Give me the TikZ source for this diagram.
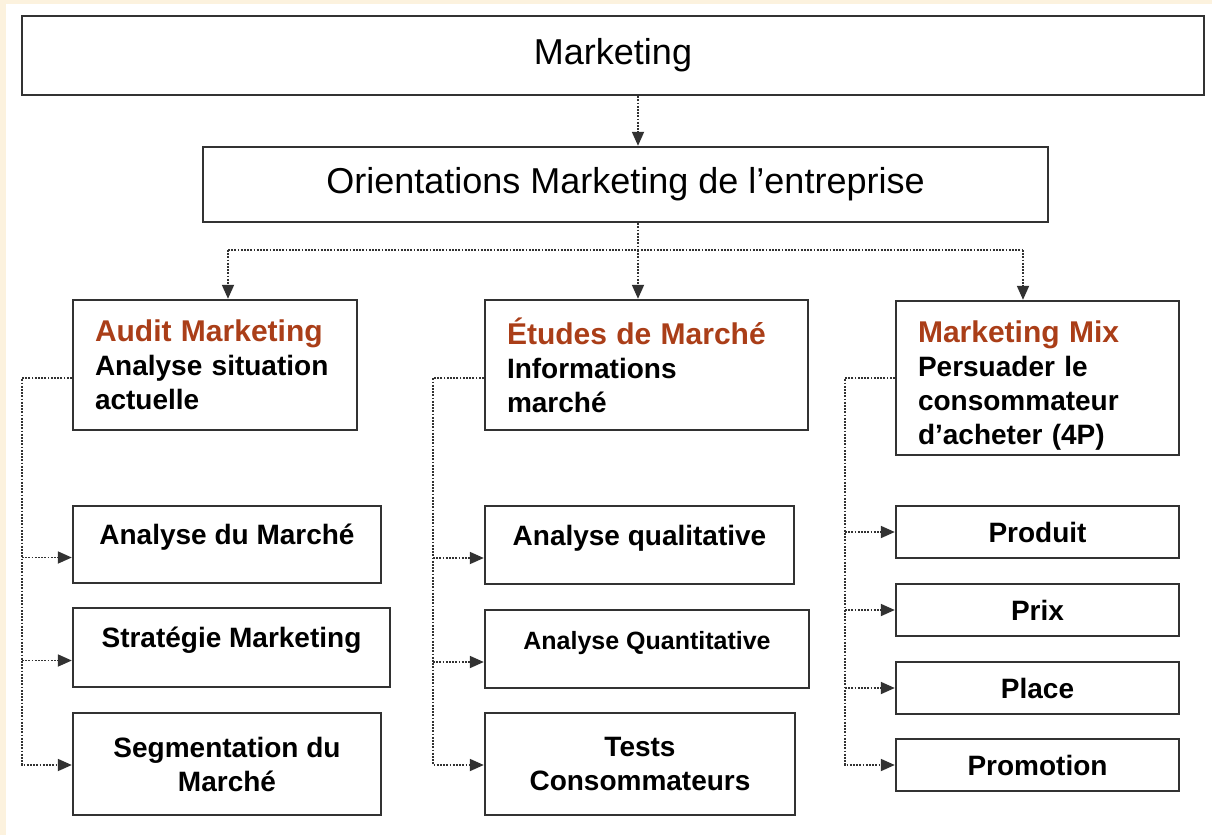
\documentclass[tikz,border=0pt]{standalone}
\usepackage{fontspec}
\setmainfont{Liberation Sans}
\usetikzlibrary{arrows.meta}
\definecolor{headred}{RGB}{170,62,24}
\definecolor{cream}{RGB}{252,242,222}
\definecolor{rule}{RGB}{50,50,50}

\begin{document}
\begin{tikzpicture}[
        x=1pt, y=-1pt,
        box/.style={rectangle, draw=rule, line width=2.4pt, fill=white, inner sep=0pt},
        topbox/.style={box, font=\fontsize{36}{40}\selectfont},
        unit/.style={box, inner xsep=22pt, align=left, font=\fontsize{28}{34}\selectfont\bfseries},
        kid/.style={box, align=center, text height=20pt, text depth=20pt, font=\fontsize{28}{34}\selectfont\bfseries},
        kidtwo/.style={box, align=center, font=\fontsize{28}{34}\selectfont\bfseries},
        leaf/.style={box, minimum width=283pt, minimum height=52pt, font=\fontsize{28}{34}\selectfont\bfseries},
        wire/.style={rule, line width=1.8pt, dash pattern=on 1.8pt off 1.4pt},
        link/.style={wire, -{Triangle[length=14pt,width=12pt]}}
    ]

    % page and margins
    \useasboundingbox (0,0) rectangle (1212,835);
    \fill[cream] (0,0) rectangle (1212,835);
    \fill[white] (6,4) rectangle (1212,835);

    % top of the tree
    \node[topbox, minimum width=1182pt, minimum height=79pt] (mkt) at (613,55.5) {Marketing};
    \node[topbox, minimum width=845pt, minimum height=75pt] (orient) at (625.5,184.5) {Orientations Marketing de l’entreprise};

    % the three branches
    \node[unit, text width=240pt, minimum width=284pt, minimum height=130pt] (audit) at (215,365)
        {\textcolor{headred}{\fontsize{30}{34}\selectfont Audit Marketing}\\Analyse situation\\actuelle};
    \node[unit, text width=279pt, minimum width=323pt, minimum height=130pt] (etude) at (646.5,365)
        {\textcolor{headred}{\fontsize{30}{34}\selectfont Études de Marché}\\Informations\\marché};
    \node[unit, text width=239pt, minimum width=283pt, minimum height=154pt] (mix) at (1037.5,378)
        {\rule{0pt}{36pt}\textcolor{headred}{\fontsize{30}{34}\selectfont Marketing Mix}\\Persuader le\\consommateur\\d’acheter (4P)};

    % audit children
    \node[kid, minimum width=308pt, minimum height=77pt] (kidA1) at (227,544.5) {Analyse du Marché};
    \node[kid, minimum width=317pt, minimum height=79pt] (kidA2) at (231.5,647.5) {Stratégie Marketing};
    \node[kidtwo, minimum width=308pt, minimum height=102pt] (kidA3) at (227,764) {Segmentation du\\Marché};

    % etudes children
    \node[kid, minimum width=309pt, minimum height=78pt] (kidE1) at (639.5,545) {Analyse qualitative};
    \node[kid, minimum width=324pt, minimum height=78pt, font=\fontsize{25}{30}\selectfont\bfseries] (kidE2) at (647,649) {Analyse Quantitative};
    \node[kidtwo, minimum width=310pt, minimum height=102pt] (kidE3) at (640,764) {Tests\\Consommateurs};

    % mix children (4P)
    \node[leaf] (kidM1) at (1037.5,532) {Produit};
    \node[leaf] (kidM2) at (1037.5,610) {Prix};
    \node[leaf] (kidM3) at (1037.5,688) {Place};
    \node[leaf] (kidM4) at (1037.5,765) {Promotion};

    % junction points
    \coordinate (hub) at (638,250);
    \coordinate (hubA) at (228,250);
    \coordinate (hubM) at (1023,250);
    \coordinate (sideA) at (22,765);
    \coordinate (sideE) at (433,765);
    \coordinate (sideM) at (845,765);

    \draw[link] (mkt.south -| hub) -- (orient.north -| hub);
    \draw[wire] (orient.south -| hub) -- (hub);
    \draw[wire] (hubA) -- (hubM);
    \draw[link] (hubA) -- (hubA |- audit.north);
    \draw[link] (hub) -- (hub |- etude.north);
    \draw[link] (hubM) -- (hubM |- mix.north);

    \draw[link] ([yshift=-13pt]audit.west) -| (sideA) -- (sideA -| kidA3.west);
    \draw[link] ([yshift=-13pt]kidA1.west -| sideA) -- ([yshift=-13pt]kidA1.west);
    \draw[link] ([yshift=-13pt]kidA2.west -| sideA) -- ([yshift=-13pt]kidA2.west);

    \draw[link] ([yshift=-13pt]etude.west) -| (sideE) -- (sideE -| kidE3.west);
    \draw[link] ([yshift=-13pt]kidE1.west -| sideE) -- ([yshift=-13pt]kidE1.west);
    \draw[link] ([yshift=-13pt]kidE2.west -| sideE) -- ([yshift=-13pt]kidE2.west);

    \draw[link] (mix.west) -| (sideM) -- (kidM4.west);
    \draw[link] (sideM |- kidM1.west) -- (kidM1.west);
    \draw[link] (sideM |- kidM2.west) -- (kidM2.west);
    \draw[link] (sideM |- kidM3.west) -- (kidM3.west);

\end{tikzpicture}
\end{document}
